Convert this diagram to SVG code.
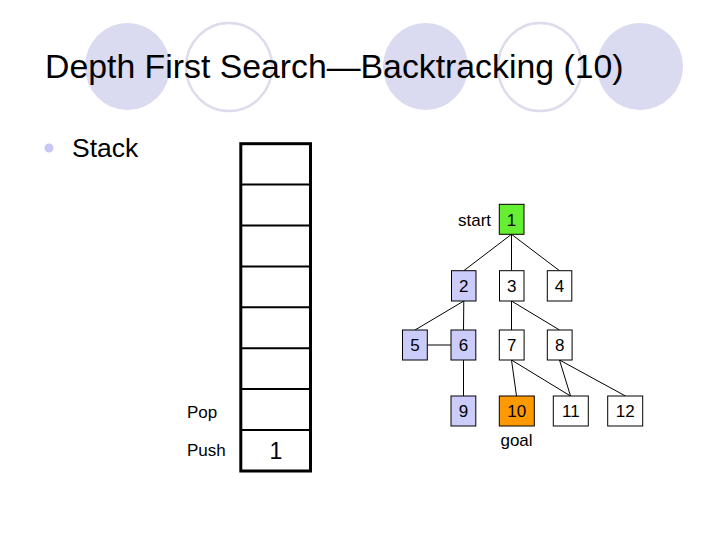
<svg xmlns="http://www.w3.org/2000/svg" width="720" height="540" viewBox="0 0 720 540">
<style>
.bgf{fill:#dadaf0;stroke:none}
.bgo{fill:none;stroke:#dcdcec;stroke-width:2.5}
.t{font-family:"Liberation Sans",Arial,sans-serif;fill:#000}
.node rect{stroke:#000;stroke-width:1}
.node text{font-family:"Liberation Sans",Arial,sans-serif;font-size:17px;text-anchor:middle;fill:#000}
.w{fill:#fff}
.v{fill:#ccccfa}
.edges line{stroke:#000;stroke-width:1}
.cell{stroke:#000;stroke-width:2;fill:none}
</style>
<rect width="720" height="540" fill="#fff"/>
<g id="background">
<ellipse class="bgf" cx="127.5" cy="66.5" rx="42.5" ry="43.5"/>
<ellipse class="bgo" cx="229" cy="67" rx="43" ry="44"/>
<ellipse class="bgf" cx="425.5" cy="66.5" rx="42.5" ry="43.5"/>
<ellipse class="bgo" cx="540" cy="67" rx="42" ry="44"/>
<ellipse class="bgf" cx="640" cy="66.5" rx="43" ry="43.5"/>
</g>
<text class="t" x="45" y="78" font-size="33.8">Depth First Search—Backtracking (10)</text>
<circle cx="49" cy="148" r="4.5" fill="#c8c8f4"/>
<text class="t" x="72" y="157" font-size="26.5">Stack</text>
<g id="stack">
<rect x="240.8" y="143.7" width="69.7" height="327.3" fill="none" stroke="#000" stroke-width="3"/>
<line class="cell" x1="240.8" y1="184.6" x2="310.5" y2="184.6"/>
<line class="cell" x1="240.8" y1="225.5" x2="310.5" y2="225.5"/>
<line class="cell" x1="240.8" y1="266.4" x2="310.5" y2="266.4"/>
<line class="cell" x1="240.8" y1="307.3" x2="310.5" y2="307.3"/>
<line class="cell" x1="240.8" y1="348.2" x2="310.5" y2="348.2"/>
<line class="cell" x1="240.8" y1="389.1" x2="310.5" y2="389.1"/>
<line class="cell" x1="240.8" y1="430" x2="310.5" y2="430"/>
<text class="t" x="276" y="458.5" font-size="23" text-anchor="middle">1</text>
</g>
<text class="t" x="187" y="418" font-size="17">Pop</text>
<text class="t" x="187" y="455.5" font-size="17">Push</text>
<g class="edges" id="connectors">
<line x1="511.5" y1="234.3" x2="463.8" y2="270.7"/>
<line x1="511.5" y1="234.3" x2="511.5" y2="270.7"/>
<line x1="511.5" y1="234.3" x2="559.5" y2="270.7"/>
<line x1="463.8" y1="301" x2="415" y2="330"/>
<line x1="463.8" y1="301" x2="463.5" y2="330"/>
<line x1="427.3" y1="345" x2="451" y2="345"/>
<line x1="511.5" y1="301" x2="511.5" y2="330"/>
<line x1="511.5" y1="301" x2="559.5" y2="330"/>
<line x1="463.5" y1="360" x2="463.5" y2="396"/>
<line x1="511.5" y1="360" x2="516.5" y2="396"/>
<line x1="511.5" y1="360" x2="570.5" y2="396"/>
<line x1="559.5" y1="360" x2="570.5" y2="396"/>
<line x1="559.5" y1="360" x2="625.5" y2="396"/>
</g>
<text class="t" x="474.5" y="225.5" font-size="17" text-anchor="middle">start</text>
<g class="node" id="n1"><rect x="499.3" y="204.3" width="24.7" height="30" fill="#66ee33"/><text x="511.6" y="225.5">1</text></g>
<g class="node" id="n2"><rect class="v" x="451.5" y="270.7" width="24.5" height="30.3"/><text x="463.8" y="291.8">2</text></g>
<g class="node" id="n3"><rect class="w" x="499.5" y="270.7" width="24.5" height="30.3"/><text x="511.8" y="291.8">3</text></g>
<g class="node" id="n4"><rect class="w" x="547.3" y="270.7" width="24.5" height="30.3"/><text x="559.6" y="291.8">4</text></g>
<g class="node" id="n5"><rect class="v" x="402.5" y="330" width="24.8" height="30"/><text x="414.9" y="351">5</text></g>
<g class="node" id="n6"><rect class="v" x="451" y="330" width="24.8" height="30"/><text x="463.4" y="351">6</text></g>
<g class="node" id="n7"><rect class="w" x="499.3" y="330" width="24.8" height="30"/><text x="511.7" y="351">7</text></g>
<g class="node" id="n8"><rect class="w" x="547.3" y="330" width="24.8" height="30"/><text x="559.7" y="351">8</text></g>
<g class="node" id="n9"><rect class="v" x="451" y="396" width="24.8" height="30"/><text x="463.4" y="417">9</text></g>
<g class="node" id="n10"><rect x="499.3" y="396" width="35" height="30" fill="#ff9900"/><text x="516.8" y="417">10</text></g>
<g class="node" id="n11"><rect class="w" x="553.3" y="396" width="35" height="30"/><text x="570.8" y="417">11</text></g>
<g class="node" id="n12"><rect class="w" x="607.7" y="396" width="35" height="30"/><text x="625.2" y="417">12</text></g>
<text class="t" x="516.5" y="446" font-size="17" text-anchor="middle">goal</text>
</svg>
